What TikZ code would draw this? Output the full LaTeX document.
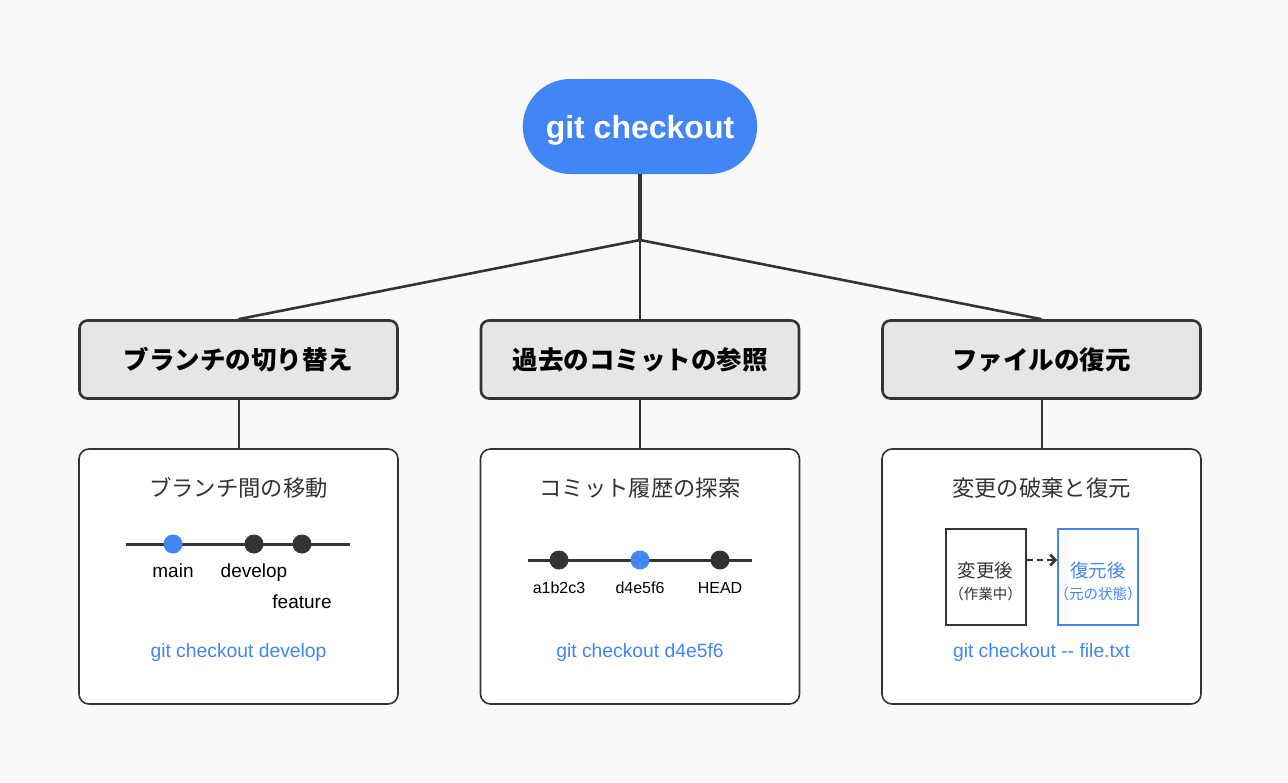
\documentclass[tikz,border=0pt]{standalone}
\usepackage{fontspec}
\setmainfont{Liberation Sans}
\newfontfamily\jpfont{Noto Sans CJK JP}
\usetikzlibrary{shapes.misc, arrows.meta}

\definecolor{gitblue}{HTML}{4285F4}
\definecolor{ink}{HTML}{333333}
\definecolor{catfill}{HTML}{E6E6E6}
\definecolor{canvas}{HTML}{F9F9F9}

\tikzset{
  root/.style={rounded rectangle, fill=gitblue, minimum width=241pt, minimum height=95pt, text depth=0pt, text=white, font=\fontsize{32}{36}\selectfont\bfseries},
  category/.style={rectangle, draw=ink, line width=2.6pt, fill=catfill, rounded corners=8pt, minimum width=318pt, minimum height=78pt, font=\jpfont\bfseries\fontsize{25.5}{30}\selectfont},
  detail/.style={rectangle, draw=ink, line width=1.6pt, fill=white, rounded corners=10pt, minimum width=319pt, minimum height=255pt},
  title/.style={text=ink, font=\jpfont\fontsize{22.3}{26}\selectfont},
  command/.style={anchor=base, text=gitblue, font=\fontsize{19.3}{22}\selectfont},
  branchname/.style={anchor=base, font=\fontsize{19}{22}\selectfont},
  hashname/.style={anchor=base, font=\fontsize{16}{19}\selectfont},
  commit/.style={circle, fill=ink, minimum size=19pt, inner sep=0pt},
  track/.style={draw=ink, line width=3pt},
  filebox/.style={rectangle, draw=ink, line width=2pt, fill=white, minimum width=80pt, minimum height=96pt},
  filetext/.style={font=\jpfont\fontsize{18.5}{22}\selectfont},
  filenote/.style={font=\jpfont\fontsize{14.5}{17}\selectfont},
  trunk/.style={draw=ink, line width=4pt},
  branch/.style={draw=ink, line width=2.6pt},
  stem/.style={draw=ink, line width=2pt},
}

\begin{document}
\begin{tikzpicture}[x=1pt, y=-1pt]
  \useasboundingbox (0,0) rectangle (1288,782);
  \fill[canvas] (0,0) rectangle (1288,782);

  % Nodes
  \node (root) [root] at (640, 126.5) {git checkout};
  \coordinate (hub) at (640, 240);
  \node (switch) [category] at (238.5, 359.5) {ブランチの切り替え};
  \node (history) [category] at (640, 359.5) {過去のコミットの参照};
  \node (restore) [category] at (1041.5, 359.5) {ファイルの復元};
  \node (switch-detail) [detail] at (238.5, 576.5) {};
  \node (history-detail) [detail] at (640, 576.5) {};
  \node (restore-detail) [detail] at (1041.5, 576.5) {};

  % Tree lines
  \draw[trunk] (root.south) -- (hub);
  \draw[branch] (hub) -- (switch.north);
  \draw[branch] (hub) -- (history.north);
  \draw[branch] (hub) -- (restore.north);
  \draw[stem] (switch.south) -- (switch-detail.north);
  \draw[stem] (history.south) -- (history-detail.north);
  \draw[stem] (restore.south) -- (restore-detail.north);

  % Branch switching
  \node (switch-title) [title] at (238.5, 488) {ブランチ間の移動};
  \coordinate (switch-start) at (126, 544);
  \coordinate (switch-end) at (350, 544);
  \draw[track] (switch-start) -- (switch-end);
  \node (main) [commit, fill=gitblue] at (173, 544) {};
  \node (develop) [commit] at (254, 544) {};
  \node (feature) [commit] at (302, 544) {};
  \node (main-label) [branchname] at (173, 577) {main};
  \node (develop-label) [branchname] at (254, 577) {develop};
  \node (feature-label) [branchname] at (302, 608) {feature};
  \node (switch-cmd) [command] at (238.5, 657) {git checkout develop};

  % Commit history
  \node (history-title) [title] at (640, 488) {コミット履歴の探索};
  \coordinate (history-start) at (528, 560);
  \coordinate (history-end) at (752, 560);
  \draw[track] (history-start) -- (history-end);
  \node (old) [commit] at (559, 560) {};
  \node (target) [commit, fill=gitblue] at (640, 560) {};
  \node (head) [commit] at (720, 560) {};
  \node (old-label) [hashname] at (559, 593) {a1b2c3};
  \node (target-label) [hashname] at (640, 593) {d4e5f6};
  \node (head-label) [hashname] at (720, 593) {HEAD};
  \node (history-cmd) [command] at (640, 657) {git checkout d4e5f6};

  % File restore
  \node (restore-title) [title] at (1041.5, 488) {変更の破棄と復元};
  \node (changed) [filebox] at (985.5, 576.5) {};
  \node (restored) [filebox, draw=gitblue] at (1098, 576.5) {};
  \node (changed-text) [filetext, text=ink] at (985.5, 570) {変更後};
  \node (changed-note) [filenote, text=ink] at (985.5, 594) {（作業中）};
  \node (restored-text) [filetext, text=gitblue] at (1098, 570) {復元後};
  \node (restored-note) [filenote, text=gitblue] at (1098, 594) {（元の状態）};
  \draw[-{Straight Barb[length=5pt, width=11pt]}, ink, line width=2.6pt, dash pattern=on 6pt off 4pt] ([yshift=16.5pt]changed.east) -- ([yshift=16.5pt]restored.west);
  \node (restore-cmd) [command] at (1041.5, 657) {git checkout -{}- file.txt};
\end{tikzpicture}
\end{document}
